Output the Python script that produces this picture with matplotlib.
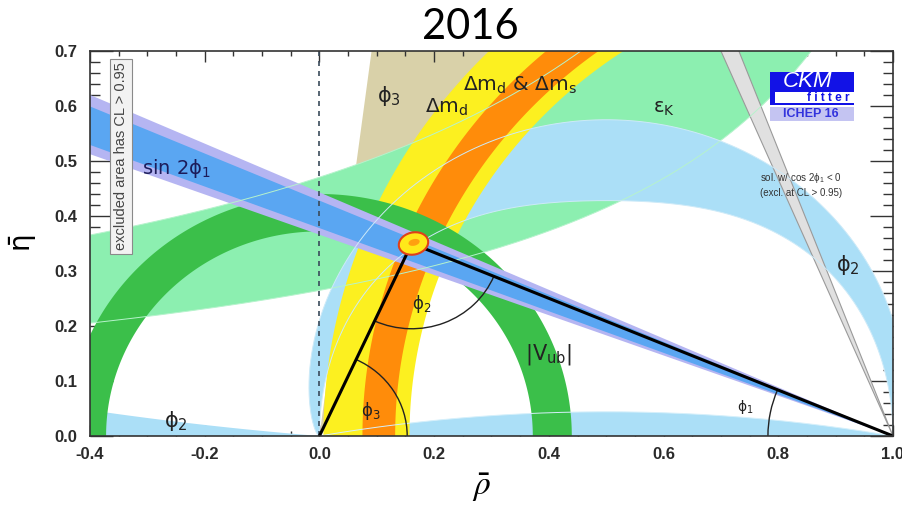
import numpy as np
import matplotlib.pyplot as plt
from matplotlib.patches import Ellipse, Arc, Rectangle
from matplotlib.ticker import MultipleLocator, FormatStrFormatter

plt.rcParams['axes.unicode_minus'] = False
plt.rcParams['mathtext.default'] = 'regular'

# values
apex = [0.161, 0.350]                 # (rho, eta) of the fitted apex
apex_ellipse = [0.052, 0.040, 15.0]   # width, height, angle
sin2b_tan_95 = [0.366, 0.443]         # eta/(1-rho) edges, sin 2phi1
sin2b_tan_68 = [0.378, 0.428]
dmd_radius = [0.843, 0.993]           # distance from (1,0), dm_d
dmds_radius = [0.868, 0.925]          # dm_d & dm_s
vub_radius = [0.372, 0.440]           # distance from (0,0)
gamma_deg = [65.0, 82.6]              # phi3 wedge from origin
cos2b_deg = [111.0, 113.2]            # other sin2phi1 solution, from (1,0)
epsk_lo = [1.379, 0.365]              # eta = b / (a - rho)
epsk_hi = [1.390, 0.654]
alpha_bulge = [0.075, 0.072]          # outer / inner radial bulge of phi2 band
alpha_shape = [0.6, 4.0]              # exponents of sin(t) for outer / inner edge
alpha_sliver_k = [5.98, 2.82]         # centre heights of the near-axis phi2 arcs
arc_radius = [0.153, 0.155, 0.218]    # phi3, phi2, phi1 angle arcs

xticks = [-0.4, -0.2, 0.0, 0.2, 0.4, 0.6, 0.8, 1.0]
yticks = [0.0, 0.1, 0.2, 0.3, 0.4, 0.5, 0.6, 0.7]

c_mint = '#8cefb0'
c_lblue = '#abdff7'
c_tan = '#d9d1a9'
c_yellow = '#fcf020'
c_orange = '#ff8c0a'
c_green = '#3bbf4a'
c_lav = '#b5b5f2'
c_blue = '#5aa6f2'


def annulus(cx, r_in, r_out, n=300):
    t = np.linspace(0, np.pi, n)
    x = np.concatenate([cx + r_out * np.cos(t), cx + r_in * np.cos(t[::-1])])
    y = np.concatenate([r_out * np.sin(t), r_in * np.sin(t[::-1])])
    return x, y


def wedge(cx, a1, a2, L=3.0):
    a = np.radians([a1, a2])
    return [cx, cx + L * np.cos(a[0]), cx + L * np.cos(a[1])], [0, L * np.sin(a[0]), L * np.sin(a[1])]


fig = plt.figure(figsize=(9.02, 5.11), dpi=100)
ax = fig.add_axes([0.0998, 0.1468, 0.8902, 0.7534])
ax.set_xlim(-0.4, 1.0)
ax.set_ylim(0.0, 0.7)

# phi3 (gamma)
ax.fill(*wedge(0.0, gamma_deg[0], gamma_deg[1]), color=c_tan, lw=0, zorder=1)

# epsilon_K
xs = np.linspace(-0.5, 1.35, 400)
lo = np.minimum(epsk_lo[1] / (epsk_lo[0] - xs), 2.0)
hi = np.minimum(epsk_hi[1] / (epsk_hi[0] - xs), 2.0)
ax.fill(np.concatenate([xs, xs[::-1]]), np.concatenate([lo, hi[::-1]]), color=c_mint, lw=0, zorder=2)

# phi2 (alpha): main band + near-axis slivers
t = np.linspace(0, np.pi, 400)
r_out = 0.5 + alpha_bulge[0] * np.sin(t) ** alpha_shape[0]
r_in = 0.5 - alpha_bulge[1] * np.sin(t) ** alpha_shape[1]
ax.fill(np.concatenate([0.5 + r_out * np.cos(t), 0.5 + r_in[::-1] * np.cos(t[::-1])]),
        np.concatenate([r_out * np.sin(t), r_in[::-1] * np.sin(t[::-1])]),
        color=c_lblue, lw=0, zorder=3)
kl, kr = alpha_sliver_k
xl = np.linspace(-0.5, 0.0, 100)
yl = kl - np.sqrt(0.25 + kl ** 2 - (xl - 0.5) ** 2)
ax.fill(np.concatenate([xl, [0.0, -0.5]]), np.concatenate([yl, [0.0, 0.0]]), color=c_lblue, lw=0, zorder=3)
xr = np.linspace(0.0, 1.0, 200)
yr = -kr + np.sqrt(0.25 + kr ** 2 - (xr - 0.5) ** 2)
ax.fill(xr, yr, color=c_lblue, lw=0, zorder=3)

# cos 2phi1 < 0 solution
ax.fill(*wedge(1.0, cos2b_deg[0], cos2b_deg[1]), facecolor='#e0e0e0', edgecolor='#9a9a9a', lw=0.8, zorder=4)

# dm_d and dm_d & dm_s
ax.fill(*annulus(1.0, *dmd_radius), color=c_yellow, lw=0, zorder=5)
ax.fill(*annulus(1.0, *dmds_radius), color=c_orange, lw=0, zorder=6)

# |Vub|
ax.fill(*annulus(0.0, *vub_radius), color=c_green, lw=0, zorder=7)

# sin 2phi1
for tans, col, z in [(sin2b_tan_95, c_lav, 8), (sin2b_tan_68, c_blue, 9)]:
    a = [180 - np.degrees(np.arctan(v)) for v in tans]
    ax.fill(*wedge(1.0, a[0], a[1]), color=col, lw=0, zorder=z)

# faint contour edges running across the other bands
ax.plot(xs, lo, color='#b6f3cc', lw=0.7, zorder=9.5)
ax.plot(xs, hi, color='#b6f3cc', lw=0.7, zorder=9.5)
ax.plot(0.5 + r_out * np.cos(t), r_out * np.sin(t), color='#cdeaf8', lw=0.7, zorder=9.5)
ax.plot(0.5 + r_in * np.cos(t), r_in * np.sin(t), color='#cdeaf8', lw=0.7, zorder=9.5)
ax.plot(xr, yr, color='#d6f0fb', lw=0.7, zorder=9.5)

ax.axvline(0.0, color='#3a4a5a', lw=1.2, ls=(0, (3, 3)), zorder=10)

# unitarity triangle
ax.plot([0.0, apex[0], 1.0], [0.0, apex[1], 0.0], color='black', lw=2.2, zorder=12)
ang_left = np.degrees(np.arctan2(apex[1], apex[0]))
ang_right = np.degrees(np.arctan2(apex[1], apex[0] - 1.0))
ax.add_patch(Arc((0, 0), 2 * arc_radius[0], 2 * arc_radius[0], theta1=0, theta2=ang_left,
                 color='#222222', lw=1.0, zorder=11))
ax.add_patch(Arc(apex, 2 * arc_radius[1], 2 * arc_radius[1], theta1=180 + ang_left, theta2=ang_right + 180,
                 color='#222222', lw=1.0, zorder=11))
ax.add_patch(Arc((1, 0), 2 * arc_radius[2], 2 * arc_radius[2], theta1=ang_right, theta2=180,
                 color='#222222', lw=1.0, zorder=11))
ax.add_patch(Ellipse((apex[0] + 0.003, apex[1]), apex_ellipse[0], apex_ellipse[1], angle=apex_ellipse[2],
                     facecolor='#ffe81a', edgecolor='#e0401a', lw=1.5, zorder=13))
ax.add_patch(Ellipse((apex[0] + 0.004, apex[1] + 0.002), 0.02, 0.012, angle=apex_ellipse[2],
                     facecolor='#ffa010', edgecolor='none', zorder=13))

# labels on the plot
lab = dict(color='#222222', ha='center', va='center', zorder=14)
ax.text(-0.25, 0.487, r'sin 2$\phi_1$', fontsize=14, color='#1c1c5a', ha='center', va='center', zorder=14)
ax.text(0.121, 0.618, r'$\phi_3$', fontsize=15, **lab)
ax.text(0.221, 0.598, r'$\Delta m_d$', fontsize=14.5, **lab)
ax.text(0.350, 0.638, r'$\Delta m_d$ & $\Delta m_s$', fontsize=14.5, **lab)
ax.text(0.600, 0.595, r'$\varepsilon_K$', fontsize=14, **lab)
ax.text(0.921, 0.311, r'$\phi_2$', fontsize=15, **lab)
ax.text(0.400, 0.149, r'$|V_{ub}|$', fontsize=15, **lab)
ax.text(-0.250, 0.027, r'$\phi_2$', fontsize=15, **lab)
ax.text(0.090, 0.045, r'$\phi_3$', fontsize=12, **lab)
ax.text(0.179, 0.240, r'$\phi_2$', fontsize=12, **lab)
ax.text(0.742, 0.053, r'$\phi_1$', fontsize=10, **lab)

ax.text(0.0386, 0.727, 'excluded area has CL > 0.95', transform=ax.transAxes, rotation=90,
        fontsize=10.5, family='Liberation Sans', color='#444444', ha='center', va='center', zorder=15,
        bbox=dict(boxstyle='square,pad=0.25', facecolor='#f2f2f2', edgecolor='#8a8a8a', lw=0.8))

ax.text(0.834, 0.670, r'sol. w/ cos 2$\phi_1$ < 0', transform=ax.transAxes, fontsize=7,
        family='Liberation Sans', color='#333333', ha='left', va='center', zorder=15)
ax.text(0.834, 0.631, '(excl. at CL > 0.95)', transform=ax.transAxes, fontsize=7,
        family='Liberation Sans', color='#333333', ha='left', va='center', zorder=15)

# CKMfitter logo
tr = ax.transAxes
ax.add_patch(Rectangle((0.847, 0.894), 0.104, 0.051, transform=tr, facecolor='#1212e6', lw=0, zorder=15))
ax.add_patch(Rectangle((0.847, 0.860), 0.006, 0.034, transform=tr, facecolor='#1212e6', lw=0, zorder=15))
ax.add_patch(Rectangle((0.847, 0.860), 0.104, 0.005, transform=tr, facecolor='#1212e6', lw=0, zorder=15))
ax.add_patch(Rectangle((0.853, 0.865), 0.098, 0.029, transform=tr, facecolor='white', lw=0, zorder=14.9))
ax.add_patch(Rectangle((0.847, 0.818), 0.104, 0.037, transform=tr, facecolor='#c4c4f2', lw=0, zorder=15))
ax.text(0.893, 0.920, 'CKM', transform=tr, fontsize=16, style='italic', family='Liberation Sans',
        color='white', ha='center', va='center', zorder=16)
ax.text(0.946, 0.878, 'f i t t e r', transform=tr, fontsize=8.5, weight='bold', family='Liberation Sans',
        color='#1212e6', ha='right', va='center', zorder=16)
ax.text(0.898, 0.836, 'ICHEP 16', transform=tr, fontsize=9, weight='bold', family='Liberation Sans',
        color='#3333dd', ha='center', va='center', zorder=16)

# axes styling, ROOT-like inward ticks
ax.set_xticks(xticks)
ax.set_yticks(yticks)
ax.xaxis.set_major_formatter(FormatStrFormatter('%.1f'))
ax.yaxis.set_major_formatter(FormatStrFormatter('%.1f'))
ax.xaxis.set_minor_locator(MultipleLocator(0.05))
ax.yaxis.set_minor_locator(MultipleLocator(0.02))
ax.tick_params(which='both', direction='in', top=True, right=True, width=1.0, color='#333333')
ax.tick_params(axis='x', which='major', length=8, pad=8)
ax.tick_params(axis='x', which='minor', length=3.6)
ax.tick_params(axis='y', which='major', length=16.5, pad=9)
ax.tick_params(axis='y', which='minor', length=7)
for lbl in ax.get_xticklabels() + ax.get_yticklabels():
    lbl.set_fontfamily('Liberation Sans')
    lbl.set_fontweight('bold')
    lbl.set_fontsize(12)
    lbl.set_color('#2a2a2a')
for sp in ax.spines.values():
    sp.set_color('#333333')
    sp.set_linewidth(1.2)
    sp.set_zorder(20)

ax.set_xlabel(r'$\bar{\mathit{\rho}}$', fontsize=24, math_fontfamily='stix')
ax.xaxis.set_label_coords(0.487, -0.135)
ax.xaxis.label.set_va('center')
ax.set_ylabel(r'$\bar{\eta}$', fontsize=20, math_fontfamily='dejavusans', rotation=90)
ax.yaxis.set_label_coords(-0.083, 0.501)
ax.yaxis.label.set_va('center')

fig.text(0.521, 0.947, '2016', fontsize=30, family='Lato', ha='center', va='center')

fig.savefig('out.png', dpi=100)
